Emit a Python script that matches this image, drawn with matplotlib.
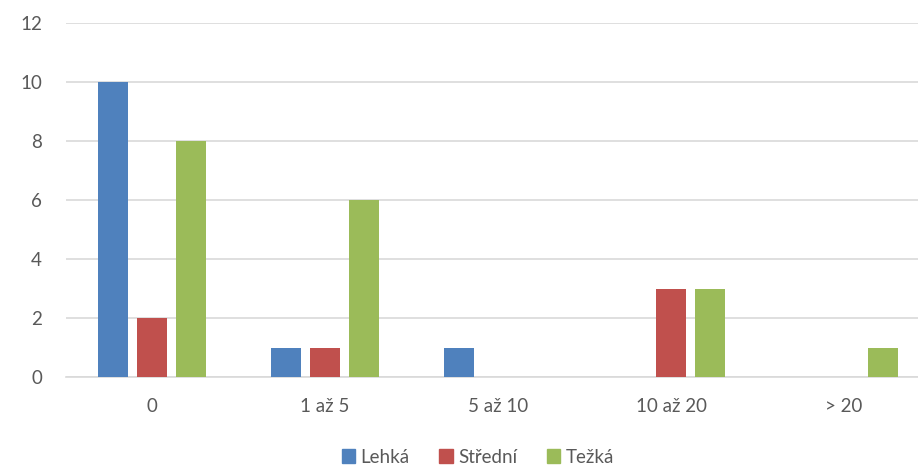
import matplotlib
matplotlib.use("Agg")
import matplotlib.pyplot as plt
import numpy as np

categories = ["0", "1 až 5", "5 až 10", "10 až 20", "> 20"]
series_names = ["Lehká", "Střední", "Težká"]
lehka = [10, 1, 1, 0, 0]
stredni = [2, 1, 0, 3, 0]
tezka = [8, 6, 0, 3, 1]
colors = ["#4F81BD", "#C0504D", "#9BBB59"]
yticks = [0, 2, 4, 6, 8, 10, 12]

plt.rcParams['font.family'] = ['Lato', 'DejaVu Sans']

W, H = 918, 469
fig = plt.figure(figsize=(W / 100, H / 100), dpi=100)
left, right = 65.5, 930.5
top, bottom = 23, 377
ax = fig.add_axes([left / W, (H - bottom) / H, (right - left) / W, (bottom - top) / H])

x = np.arange(len(categories))
bw = 30 / 173
step = 39 / 173
for i, (vals, name, c) in enumerate(zip([lehka, stredni, tezka], series_names, colors)):
    ax.bar(x + (i - 1) * step, vals, width=bw, color=c, label=name, zorder=3)

ax.set_xlim(-0.5, len(categories) - 0.5)
ax.set_ylim(0, 12)
ax.set_yticks(yticks)
ax.set_xticks(x)
ax.set_xticklabels(categories)
ax.yaxis.grid(True, color="#D9D9D9", linewidth=1.2, zorder=0)
ax.set_axisbelow(True)
for s in ["top", "right", "left"]:
    ax.spines[s].set_visible(False)
ax.spines["bottom"].set_color("#D9D9D9")
ax.spines["bottom"].set_linewidth(1.2)
ax.tick_params(axis="both", length=0, labelsize=13.5, labelcolor="#595959")
ax.tick_params(axis="y", pad=17)
ax.tick_params(axis="x", pad=15)

handles = [plt.Rectangle((0, 0), 1, 1, color=c) for c in colors]
fig.legend(handles, series_names, loc="center", bbox_to_anchor=(478 / W, 1 - 457 / H),
           ncol=3, frameon=False, fontsize=13.5, labelcolor="#595959",
           handlelength=0.7, handleheight=0.7, handletextpad=0.3, columnspacing=1.6)

fig.savefig("out.png", dpi=100)
